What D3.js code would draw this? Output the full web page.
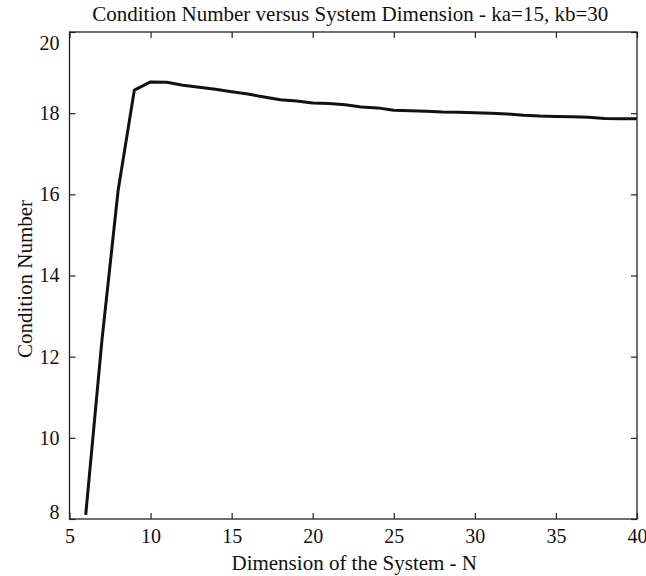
<!DOCTYPE html>
<html><head><meta charset="utf-8">
<script src="https://cdn.jsdelivr.net/npm/d3@7/dist/d3.min.js"></script>
<style>body{margin:0;background:#fff}svg{display:block}text{font-family:'Liberation Serif','Times New Roman',serif}</style>
</head><body>
<script>
const dimensionN = [6,7,8,9,10,11,12,13,14,15,16,17,18,19,20,21,22,23,24,25,26,27,28,29,30,31,32,33,34,35,36,37,38,39,40];
const conditionNumber = [8.1,12.4,16.1,18.57,18.77,18.76,18.69,18.64,18.59,18.53,18.47,18.40,18.33,18.30,18.25,18.24,18.21,18.15,18.13,18.07,18.06,18.05,18.03,18.02,18.01,18.00,17.98,17.95,17.93,17.92,17.91,17.90,17.87,17.86,17.86];
const xTicks = [5,10,15,20,25,30,35,40];
const yTicks = [8,10,12,14,16,18,20];
const titleText = "Condition Number versus System Dimension - ka=15, kb=30";
const xLabelText = "Dimension of the System - N";
const yLabelText = "Condition Number";

const W = 646, H = 576;
const m = {left: 69.5, right: 637, top: 32, bottom: 519};
const font = "'Liberation Serif', 'Times New Roman', serif";

const svg = d3.select("body").append("svg").attr("width", W).attr("height", H);
svg.append("rect").attr("width", W).attr("height", H).attr("fill", "#fff");

const x = d3.scaleLinear().domain([5, 40]).range([m.left, m.right]);
const y = d3.scaleLinear().domain([8, 20]).range([m.bottom, m.top]);

// line
const line = d3.line().x((d, i) => x(dimensionN[i])).y(d => y(d));
svg.append("path").datum(conditionNumber)
  .attr("d", line).attr("fill", "none").attr("stroke", "#111")
  .attr("stroke-width", 3).attr("stroke-linejoin", "round");

// axes (inward ticks)
const tk = 6;
const gB = svg.append("g").attr("transform", `translate(0,${m.bottom})`)
  .call(d3.axisBottom(x).tickValues(xTicks).tickSize(-tk).tickPadding(10).tickFormat(d3.format("d")));
const gT = svg.append("g").attr("transform", `translate(0,${m.top})`)
  .call(d3.axisTop(x).tickValues(xTicks).tickSize(-tk).tickFormat(""));
const gL = svg.append("g").attr("transform", `translate(${m.left},0)`)
  .call(d3.axisLeft(y).tickValues(yTicks).tickSize(-tk).tickPadding(10).tickFormat(d3.format("d")));
const gR = svg.append("g").attr("transform", `translate(${m.right},0)`)
  .call(d3.axisRight(y).tickValues(yTicks).tickSize(-tk).tickFormat(""));
[gB, gT, gL, gR].forEach(g => {
  g.attr("font-family", font).attr("font-size", 20);
  g.select(".domain").remove();
  g.selectAll(".tick line").attr("stroke", "#222").attr("stroke-width", 1.2);
  g.selectAll("text").attr("fill", "#111").style("font-family", font).style("font-size", "20px");
});
// keep end labels inside frame vertically
gL.selectAll(".tick text").attr("dy", d => d === 20 ? "0.85em" : d === 8 ? "-0.05em" : "0.32em");
gB.selectAll(".tick text").attr("dy", "0.71em");

// frame
svg.append("rect").attr("x", m.left).attr("y", m.top)
  .attr("width", m.right - m.left).attr("height", m.bottom - m.top)
  .attr("fill", "none").attr("stroke", "#222").attr("stroke-width", 1.3);

// title and labels
const cx = (m.left + m.right) / 2;
svg.append("text").attr("x", cx - 3).attr("y", 21).attr("text-anchor", "middle")
  .style("font-family", font).style("font-size", "21px").attr("fill", "#111").text(titleText);
svg.append("text").attr("x", cx + 1).attr("y", 570).attr("text-anchor", "middle")
  .style("font-family", font).style("font-size", "21px").attr("fill", "#111").text(xLabelText);
svg.append("text").attr("transform", `translate(32,279) rotate(-90)`)
  .attr("text-anchor", "middle")
  .style("font-family", font).style("font-size", "21px").attr("fill", "#111").text(yLabelText);
</script>
</body></html>
